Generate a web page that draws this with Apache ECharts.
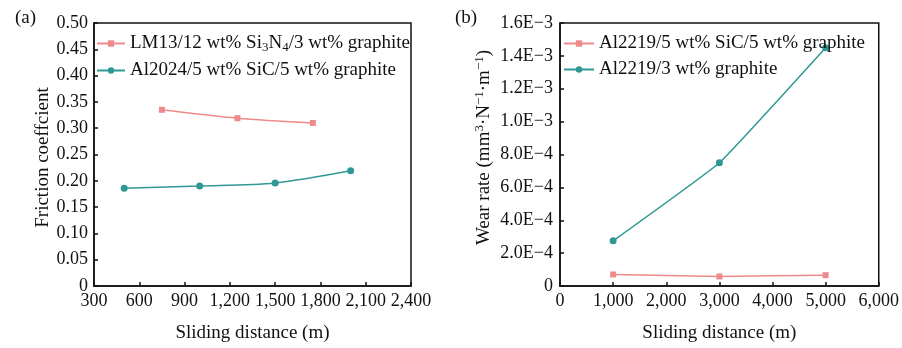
<!DOCTYPE html>
<html>
<head>
<meta charset="utf-8">
<script src="https://cdn.jsdelivr.net/npm/echarts@6/dist/echarts.min.js"></script>
<style>
  html, body { margin: 0; padding: 0; background: #fff; }
  #chart { width: 902px; height: 348px; }
</style>
</head>
<body>
<div id="chart"></div>
<script>
// panel (a): friction coefficient vs sliding distance
const distLM = [750, 1250, 1750]
const frictionLM = [0.335, 0.319, 0.310]
const distAl2024 = [500, 1000, 1500, 2000]
const frictionAl2024 = [0.186, 0.190, 0.196, 0.219]

// panel (b): wear rate vs sliding distance
const distB = [1000, 3000, 5000]
const wearSiCGr = [7.0e-5, 5.8e-5, 6.6e-5]
const wearGr = [2.75e-4, 7.5e-4, 1.45e-3]

const RED = '#ef8a8a'
const TEAL = '#2f9894'
const FONT = '"Liberation Serif", "Times New Roman", serif'

const chart = echarts.init(document.getElementById('chart'))

function sci(v) {
  if (v === 0) return '0'
  const e = Math.floor(Math.log10(v) + 1e-9)
  const m = v / Math.pow(10, e)
  return m.toFixed(1) + 'E\u2212' + (-e)
}

const axisLine = { lineStyle: { color: '#111', width: 1.5 } }
const axisTick = { inside: true, length: 4, lineStyle: { color: '#111', width: 1.5 } }
const axisLabel = { color: '#111', fontSize: 18, fontFamily: FONT }
const richName = {
  t: { fontSize: 19, fontFamily: FONT, color: '#111' },
  sup: { fontSize: 13, fontFamily: FONT, color: '#111', padding: [0, 0, 9, 0] }
}
const legendText = {
  color: '#111', fontSize: 19, fontFamily: FONT,
  rich: {
    t: { fontSize: 19, fontFamily: FONT, color: '#111' },
    sub: { fontSize: 13, fontFamily: FONT, color: '#111', padding: [8, 0, 0, 0] }
  }
}

const pair = (xs, ys) => xs.map((x, i) => [x, ys[i]])

const lineSeries = (name, xi, data, color, symbol, smooth) => ({
  name,
  type: 'line',
  xAxisIndex: xi,
  yAxisIndex: xi,
  data,
  smooth,
  symbol,
  symbolSize: symbol === 'rect' ? 6 : 7,
  lineStyle: { color, width: 1.5 },
  itemStyle: { color }
})

const nameLM = 'LM13/12 wt% Si3N4/3 wt% graphite'
const nameAl2024 = 'Al2024/5 wt% SiC/5 wt% graphite'
const nameAlSiC = 'Al2219/5 wt% SiC/5 wt% graphite'
const nameAlGr = 'Al2219/3 wt% graphite'

chart.setOption({
  backgroundColor: '#fff',
  animation: false,
  title: [
    { text: '(a)', left: 10, top: 4, textStyle: { fontSize: 19, fontWeight: 'normal', fontFamily: FONT, color: '#111' } },
    { text: '(b)', left: 450, top: 4, textStyle: { fontSize: 19, fontWeight: 'normal', fontFamily: FONT, color: '#111' } }
  ],
  grid: [
    { left: 94, top: 23, width: 317, height: 269, show: true, borderColor: '#111', borderWidth: 1.5 },
    { left: 560, top: 23, width: 323, height: 270, show: true, borderColor: '#111', borderWidth: 1.5 }
  ],
  legend: [
    {
      data: [nameLM, nameAl2024],
      orient: 'vertical',
      left: 91, top: 29,
      itemWidth: 28, itemHeight: 8, itemGap: 7,
      textStyle: legendText,
      formatter: (n) => n === nameLM
        ? '{t|LM13/12 wt% Si}{sub|3}{t|N}{sub|4}{t|/3 wt% graphite}'
        : '{t|' + n + '}'
    },
    {
      data: [nameAlSiC, nameAlGr],
      orient: 'vertical',
      left: 558, top: 29,
      itemWidth: 30, itemHeight: 8, itemGap: 7,
      textStyle: legendText
    }
  ],
  xAxis: [
    {
      gridIndex: 0, type: 'value', min: 300, max: 2400, interval: 300,
      name: 'Sliding distance (m)', nameLocation: 'middle', nameGap: 38,
      nameTextStyle: { color: '#111', fontSize: 19, fontFamily: FONT },
      axisLine, axisTick, splitLine: { show: false },
      axisLabel: { ...axisLabel, margin: 6, formatter: (v) => v.toLocaleString('en-US') }
    },
    {
      gridIndex: 1, type: 'value', min: 0, max: 6000, interval: 1000,
      name: 'Sliding distance (m)', nameLocation: 'middle', nameGap: 38,
      nameTextStyle: { color: '#111', fontSize: 19, fontFamily: FONT },
      axisLine, axisTick, splitLine: { show: false },
      axisLabel: { ...axisLabel, margin: 6, formatter: (v) => v.toLocaleString('en-US') }
    }
  ],
  yAxis: [
    {
      gridIndex: 0, type: 'value', min: 0, max: 0.5, interval: 0.05,
      name: 'Friction coeffcient', nameLocation: 'middle', nameGap: 41,
      nameTextStyle: { color: '#111', fontSize: 19, fontFamily: FONT, padding: [0, 6, 0, 0] },
      axisLine, axisTick, splitLine: { show: false },
      axisLabel: { ...axisLabel, margin: 6, formatter: (v) => v === 0 ? '0' : v.toFixed(2) }
    },
    {
      gridIndex: 1, type: 'value', min: 0, max: 0.0016, interval: 0.0002,
      name: '{t|Wear rate (mm}{sup|3}{t|·N}{sup|\u22121}{t|·m}{sup|\u22121}{t|)}',
      nameLocation: 'middle', nameGap: 65,
      nameTextStyle: { color: '#111', fontSize: 19, fontFamily: FONT, padding: [0, 0, 0, 14], rich: richName },
      axisLine, axisTick, splitLine: { show: false },
      axisLabel: { ...axisLabel, margin: 7, formatter: sci }
    }
  ],
  series: [
    lineSeries(nameLM, 0, pair(distLM, frictionLM), RED, 'rect', 0.3),
    lineSeries(nameAl2024, 0, pair(distAl2024, frictionAl2024), TEAL, 'circle', 0.3),
    lineSeries(nameAlSiC, 1, pair(distB, wearSiCGr), RED, 'rect', 0.1),
    lineSeries(nameAlGr, 1, pair(distB, wearGr), TEAL, 'circle', 0.1)
  ]
})
</script>
</body>
</html>
